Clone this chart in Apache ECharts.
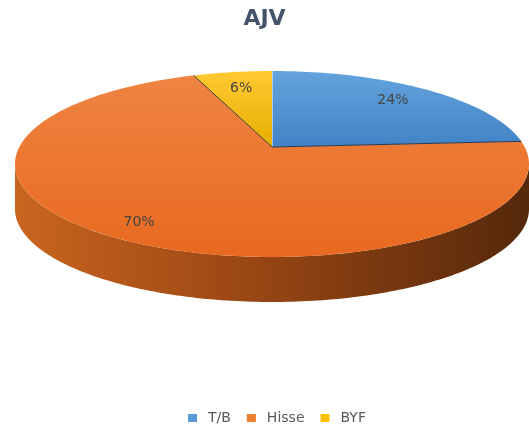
<!DOCTYPE html>
<html>
<head>
<meta charset="utf-8">
<script src="https://cdn.jsdelivr.net/npm/echarts@6/dist/echarts.min.js"></script>
<style>
  html, body { margin: 0; padding: 0; background: #fff; }
  #main { width: 529px; height: 429px; }
</style>
</head>
<body>
<div id="main"></div>
<script>
// chart data
var categories = ['T/B', 'Hisse', 'BYF'];
var shares = [24, 70, 6];

// look
var colors = ['#5b9bd5', '#ed7d31', '#ffc000'];
var topColors = [['#64a3dd', '#4283c6'], ['#ef8442', '#e8691f'], ['#ffc933', '#e6ae00']];
var labelRadius = [0.8, 0.84, 0.78];
var edgeColors = ['#ffffff', '#1f3a5a', '#3a3a3a'];

var total = shares.reduce(function (a, b) { return a + b; }, 0);
var cx = 272, cy = 164, rx = 257, ry = 93, apexY = 147, depth = 45;

// point on the rim seen from the apex at pie angle a (perspective look)
function rim(a) {
    var dx = rx * Math.sin(a), dy = -ry * Math.cos(a);
    var oy = apexY - cy;
    var A = (dx / rx) * (dx / rx) + (dy / ry) * (dy / ry);
    var B = 2 * oy * dy / (ry * ry);
    var C = (oy / ry) * (oy / ry) - 1;
    var t = (-B + Math.sqrt(B * B - 4 * A * C)) / (2 * A);
    return [cx + dx * t, apexY + dy * t];
}
// ellipse parameter of a rim point, clockwise from top
function param(p) {
    var phi = Math.atan2((p[0] - cx) / rx, -(p[1] - cy) / ry);
    return phi < 0 ? phi + Math.PI * 2 : phi;
}
function pt(phi, dy) {
    return [cx + rx * Math.sin(phi), cy - ry * Math.cos(phi) + (dy || 0)];
}
function arc(a1, a2, dy) {
    var n = Math.max(2, Math.ceil((a2 - a1) / 0.02));
    var pts = [];
    for (var i = 0; i <= n; i++) pts.push(pt(a1 + (a2 - a1) * i / n, dy));
    return pts;
}

function renderSlice(params, api) {
    var idx = params.dataIndex;
    var before = 0;
    for (var i = 0; i < idx; i++) before += shares[i];
    var start = before / total * Math.PI * 2;
    var end = (before + api.value(0)) / total * Math.PI * 2;
    var p1 = start === 0 ? 0 : param(rim(start));
    var p2 = end >= Math.PI * 2 - 1e-9 ? Math.PI * 2 : param(rim(end));
    var children = [];

    // side wall, front half only
    var s = Math.max(p1, Math.PI / 2), e = Math.min(p2, Math.PI * 1.5);
    if (e > s) {
        children.push({
            type: 'polygon',
            shape: { points: arc(s, e, 0).concat(arc(s, e, depth).reverse()) },
            style: {
                fill: new echarts.graphic.LinearGradient(0, 0, 1, 0, [
                    { offset: 0, color: '#c9651f' },
                    { offset: 0.45, color: '#9a4714' },
                    { offset: 1, color: '#55280a' }
                ])
            }
        });
    }

    // top face
    children.push({
        type: 'polygon',
        shape: { points: [[cx, apexY]].concat(arc(p1, p2, 0)) },
        style: {
            fill: new echarts.graphic.LinearGradient(0, 0, 0, 1, [
                { offset: 0, color: topColors[idx][0] },
                { offset: 1, color: topColors[idx][1] }
            ])
        }
    });

    // slice edge
    var p0 = pt(p1, 0);
    children.push({
        type: 'line',
        shape: { x1: cx, y1: apexY, x2: p0[0], y2: p0[1] },
        style: { stroke: edgeColors[idx], lineWidth: 1 }
    });

    // label
    var m = rim((start + end) / 2);
    var f = labelRadius[idx];
    children.push({
        type: 'text',
        z2: 10,
        style: {
            x: cx + (m[0] - cx) * f,
            y: apexY + (m[1] - apexY) * f,
            text: Math.round(api.value(0) / total * 100) + '%',
            align: 'center',
            verticalAlign: 'middle',
            fill: '#454545',
            fontSize: 14,
            fontFamily: 'DejaVu Sans'
        }
    });

    return { type: 'group', children: children };
}

var myChart = echarts.init(document.getElementById('main'));
var option = {
    animation: false,
    color: colors,
    title: {
        text: 'AJV',
        left: 'center',
        top: 3,
        textStyle: { color: '#44546a', fontSize: 22, fontWeight: 'bold', fontFamily: 'DejaVu Sans' }
    },
    legend: {
        top: 406,
        left: 183,
        icon: 'rect',
        itemWidth: 9,
        itemHeight: 8,
        itemGap: 16,
        data: categories,
        textStyle: { color: '#595959', fontSize: 14, fontFamily: 'DejaVu Sans', padding: [0, 0, 0, 6] }
    },
    series: [
        {
            // only feeds the legend
            type: 'pie',
            center: [-300, -300],
            radius: 10,
            silent: true,
            label: { show: false },
            labelLine: { show: false },
            data: categories.map(function (c, i) { return { name: c, value: shares[i] }; })
        },
        {
            type: 'custom',
            coordinateSystem: 'none',
            renderItem: renderSlice,
            data: categories.map(function (c, i) { return { name: c, value: shares[i] }; })
        }
    ]
};
myChart.setOption(option);
</script>
</body>
</html>
